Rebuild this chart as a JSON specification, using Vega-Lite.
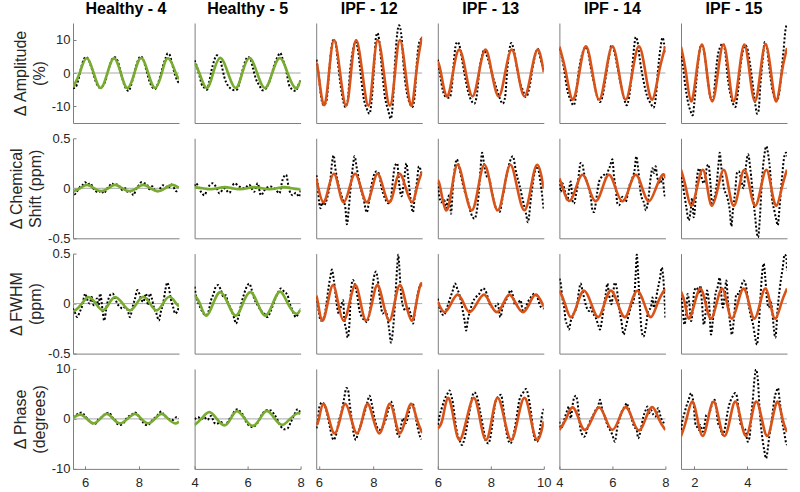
{
"$schema":"https://vega.github.io/schema/vega-lite/v6.json",
"padding":{"left":8,"top":1,"right":4,"bottom":2},
"background":"white",
"config":{"view":{"stroke":null},
"axis":{"grid":false,"ticks":false,"domainColor":"#7f7f7f","domainWidth":1,"tickColor":"#7f7f7f","labelFont":"Liberation Sans","labelFontSize":13,"labelColor":"#262626","labelFlush":false,"labelOverlap":false,"labelPadding":4,"titleFont":"Liberation Sans","titleFontSize":16,"titleFontWeight":"normal","titleColor":"#262626","titleLineHeight":19},
"axisX":{"labelPadding":11},
"axisY":{"labelPadding":6},
"title":{"font":"Liberation Sans","fontSize":16,"fontWeight":"bold","color":"#000","offset":6,"frame":"group"}},
"datasets":{
"f11":[{"x":5.55,"y":-4.3},{"x":5.8,"y":0},{"x":6.05,"y":4.4},{"x":6.32,"y":0},{"x":6.58,"y":-4.5},{"x":6.83,"y":0},{"x":7.08,"y":4.4},{"x":7.33,"y":0},{"x":7.58,"y":-4.5},{"x":7.84,"y":0},{"x":8.09,"y":4.5},{"x":8.35,"y":0},{"x":8.61,"y":-4.5},{"x":8.86,"y":0},{"x":9.1,"y":4.4},{"x":9.38,"y":0},{"x":9.5,"y":-1.8}],
"d11":[{"x":5.55,"y":-4.6},{"x":5.65,"y":-4.2},{"x":5.75,"y":-2},{"x":5.85,"y":1.5},{"x":5.95,"y":4},{"x":6.03,"y":4.8},{"x":6.12,"y":4.2},{"x":6.22,"y":2},{"x":6.32,"y":-0.5},{"x":6.42,"y":-3},{"x":6.55,"y":-4.4},{"x":6.65,"y":-4},{"x":6.75,"y":-2.5},{"x":6.85,"y":0.3},{"x":6.95,"y":3},{"x":7.05,"y":4.5},{"x":7.12,"y":4.7},{"x":7.22,"y":3.5},{"x":7.32,"y":0.5},{"x":7.42,"y":-2.5},{"x":7.52,"y":-4.6},{"x":7.62,"y":-5.4},{"x":7.72,"y":-3.5},{"x":7.82,"y":-0.5},{"x":7.92,"y":2.5},{"x":8.02,"y":4.6},{"x":8.08,"y":5},{"x":8.18,"y":3.8},{"x":8.28,"y":1},{"x":8.38,"y":-2},{"x":8.5,"y":-4.2},{"x":8.6,"y":-4.8},{"x":8.7,"y":-3.5},{"x":8.8,"y":-1},{"x":8.9,"y":2},{"x":9,"y":4.5},{"x":9.08,"y":5.9},{"x":9.15,"y":5.5},{"x":9.25,"y":2.5},{"x":9.35,"y":-0.5},{"x":9.45,"y":-2.5},{"x":9.5,"y":-3}],
"f12":[{"x":4,"y":2.9},{"x":4.18,"y":0},{"x":4.45,"y":-4.5},{"x":4.7,"y":0},{"x":4.97,"y":4.5},{"x":5.26,"y":0},{"x":5.55,"y":-4.5},{"x":5.8,"y":0},{"x":6.07,"y":4.5},{"x":6.36,"y":0},{"x":6.65,"y":-4.5},{"x":6.93,"y":0},{"x":7.22,"y":4.5},{"x":7.51,"y":0},{"x":7.8,"y":-4.5},{"x":8,"y":-2.2}],
"d12":[{"x":4,"y":3.8},{"x":4.09,"y":1.8},{"x":4.18,"y":-0.7},{"x":4.26,"y":-3.2},{"x":4.36,"y":-4.4},{"x":4.47,"y":-5},{"x":4.55,"y":-2.7},{"x":4.64,"y":0.8},{"x":4.74,"y":3.8},{"x":4.84,"y":5.3},{"x":4.93,"y":4.8},{"x":5.02,"y":2.3},{"x":5.12,"y":-1.2},{"x":5.25,"y":-3.7},{"x":5.37,"y":-4.7},{"x":5.5,"y":-5.2},{"x":5.6,"y":-5},{"x":5.7,"y":-2.7},{"x":5.81,"y":0.8},{"x":5.9,"y":3.3},{"x":6,"y":4.8},{"x":6.1,"y":4.3},{"x":6.19,"y":1.8},{"x":6.31,"y":-1.7},{"x":6.44,"y":-3.7},{"x":6.57,"y":-5.2},{"x":6.69,"y":-4.7},{"x":6.88,"y":-1.2},{"x":7,"y":2.3},{"x":7.13,"y":4.8},{"x":7.23,"y":6},{"x":7.32,"y":4.3},{"x":7.45,"y":1},{"x":7.57,"y":-3.7},{"x":7.7,"y":-5},{"x":7.82,"y":-5.4},{"x":7.91,"y":-3.7},{"x":8,"y":-2.2}],
"f13":[{"x":5.9,"y":2.9},{"x":5.98,"y":0},{"x":6.18,"y":-9.6},{"x":6.37,"y":0},{"x":6.56,"y":9.9},{"x":6.78,"y":0},{"x":7,"y":-9.8},{"x":7.18,"y":0},{"x":7.37,"y":9.9},{"x":7.6,"y":0},{"x":7.82,"y":-9.8},{"x":7.99,"y":0},{"x":8.17,"y":9.9},{"x":8.39,"y":0},{"x":8.61,"y":-9.8},{"x":8.8,"y":0},{"x":8.98,"y":9.9},{"x":9.19,"y":0},{"x":9.4,"y":-9.8},{"x":9.58,"y":0},{"x":9.77,"y":9.8},{"x":9.8,"y":9.6}],
"d13":[{"x":5.91,"y":4},{"x":6,"y":-1.2},{"x":6.08,"y":-7.2},{"x":6.18,"y":-9.7},{"x":6.28,"y":-8.2},{"x":6.36,"y":-1.2},{"x":6.45,"y":6.8},{"x":6.52,"y":9.8},{"x":6.61,"y":9.3},{"x":6.69,"y":3.8},{"x":6.79,"y":-3.2},{"x":6.89,"y":-8.2},{"x":6.97,"y":-10.2},{"x":7.06,"y":-8.2},{"x":7.15,"y":1},{"x":7.25,"y":6.8},{"x":7.34,"y":9.3},{"x":7.42,"y":7.8},{"x":7.52,"y":1},{"x":7.64,"y":-7.2},{"x":7.76,"y":-10.7},{"x":7.86,"y":-12.2},{"x":7.94,"y":-8.2},{"x":8.03,"y":1.8},{"x":8.1,"y":10.8},{"x":8.15,"y":12},{"x":8.22,"y":9.8},{"x":8.31,"y":1.8},{"x":8.43,"y":-7.2},{"x":8.55,"y":-11.2},{"x":8.64,"y":-13.7},{"x":8.71,"y":-10.2},{"x":8.79,"y":1.8},{"x":8.88,"y":11.8},{"x":8.95,"y":14.3},{"x":9.04,"y":10.8},{"x":9.12,"y":1.8},{"x":9.22,"y":-5.2},{"x":9.35,"y":-9.2},{"x":9.44,"y":-10.2},{"x":9.54,"y":-5.2},{"x":9.6,"y":2.8},{"x":9.68,"y":8.8},{"x":9.77,"y":10.3}],
"f14":[{"x":6,"y":3.5},{"x":6.12,"y":0},{"x":6.34,"y":-7},{"x":6.57,"y":0},{"x":6.81,"y":7},{"x":7.06,"y":0},{"x":7.31,"y":-7},{"x":7.55,"y":0},{"x":7.8,"y":7},{"x":8.04,"y":0},{"x":8.3,"y":-7},{"x":8.54,"y":0},{"x":8.79,"y":7},{"x":9.03,"y":0},{"x":9.27,"y":-7},{"x":9.52,"y":0},{"x":9.77,"y":7},{"x":10,"y":0.2}],
"d14":[{"x":6,"y":4},{"x":6.1,"y":-1.2},{"x":6.19,"y":-5.2},{"x":6.31,"y":-7.2},{"x":6.44,"y":-7.4},{"x":6.53,"y":-4.2},{"x":6.6,"y":2.8},{"x":6.69,"y":8.8},{"x":6.75,"y":9.3},{"x":6.86,"y":6.8},{"x":6.94,"y":2.8},{"x":7.03,"y":-1.2},{"x":7.13,"y":-5.2},{"x":7.26,"y":-8.2},{"x":7.38,"y":-9.2},{"x":7.48,"y":-6.2},{"x":7.57,"y":1},{"x":7.66,"y":4.8},{"x":7.74,"y":6.8},{"x":7.82,"y":5.8},{"x":7.95,"y":2.8},{"x":8.08,"y":-1.2},{"x":8.2,"y":-4.2},{"x":8.33,"y":-7.4},{"x":8.45,"y":-9.2},{"x":8.54,"y":-7.2},{"x":8.62,"y":1},{"x":8.7,"y":6.8},{"x":8.77,"y":9},{"x":8.87,"y":6.8},{"x":8.96,"y":2.8},{"x":9.08,"y":-2.2},{"x":9.21,"y":-5.2},{"x":9.33,"y":-7.2},{"x":9.46,"y":-4.2},{"x":9.58,"y":1.8},{"x":9.71,"y":6.3},{"x":9.77,"y":7.3},{"x":9.89,"y":3.8},{"x":10,"y":1}],
"f15":[{"x":4,"y":7.9},{"x":4.25,"y":0},{"x":4.5,"y":-8},{"x":4.75,"y":0},{"x":5,"y":8},{"x":5.25,"y":0},{"x":5.5,"y":-8},{"x":5.75,"y":0},{"x":6,"y":8},{"x":6.25,"y":0},{"x":6.5,"y":-8},{"x":6.75,"y":0},{"x":7,"y":8},{"x":7.25,"y":0},{"x":7.5,"y":-8},{"x":7.75,"y":0},{"x":8,"y":7.9}],
"d15":[{"x":4,"y":7.3},{"x":4.09,"y":4.8},{"x":4.18,"y":1},{"x":4.3,"y":-5.2},{"x":4.43,"y":-8.2},{"x":4.53,"y":-9.7},{"x":4.62,"y":-7.2},{"x":4.7,"y":-1.2},{"x":4.8,"y":3.8},{"x":4.91,"y":6.8},{"x":4.99,"y":7.8},{"x":5.08,"y":6.3},{"x":5.18,"y":1.8},{"x":5.31,"y":-3.2},{"x":5.43,"y":-7.2},{"x":5.53,"y":-8.7},{"x":5.62,"y":-7.2},{"x":5.75,"y":-1.2},{"x":5.87,"y":4.8},{"x":5.96,"y":8.3},{"x":6.06,"y":6.8},{"x":6.19,"y":1.8},{"x":6.31,"y":-3.2},{"x":6.44,"y":-7.7},{"x":6.54,"y":-9.7},{"x":6.63,"y":-7.2},{"x":6.72,"y":-1.2},{"x":6.82,"y":7.8},{"x":6.88,"y":10.8},{"x":6.94,"y":9.8},{"x":7.04,"y":3.8},{"x":7.17,"y":-2.2},{"x":7.3,"y":-6.7},{"x":7.45,"y":-9.2},{"x":7.55,"y":-10.4},{"x":7.64,"y":-7.2},{"x":7.72,"y":0.8},{"x":7.82,"y":7.8},{"x":7.89,"y":10.6},{"x":8,"y":5.8}],
"f16":[{"x":1.5,"y":7.9},{"x":1.69,"y":0},{"x":1.88,"y":-8.5},{"x":2.08,"y":0},{"x":2.29,"y":8.5},{"x":2.48,"y":0},{"x":2.68,"y":-8.5},{"x":2.89,"y":0},{"x":3.1,"y":8.5},{"x":3.3,"y":0},{"x":3.49,"y":-8.5},{"x":3.69,"y":0},{"x":3.89,"y":8.5},{"x":4.09,"y":0},{"x":4.29,"y":-8.5},{"x":4.49,"y":0},{"x":4.69,"y":8.5},{"x":4.9,"y":0},{"x":5.1,"y":-8.5},{"x":5.3,"y":0},{"x":5.5,"y":7.5}],
"d16":[{"x":1.5,"y":6.3},{"x":1.58,"y":1.8},{"x":1.66,"y":-3.7},{"x":1.75,"y":-8.2},{"x":1.85,"y":-11.2},{"x":1.94,"y":-12.7},{"x":2,"y":-9.2},{"x":2.08,"y":-2.2},{"x":2.17,"y":4.8},{"x":2.25,"y":8.3},{"x":2.33,"y":7.8},{"x":2.42,"y":3.8},{"x":2.51,"y":-2.2},{"x":2.58,"y":-6.2},{"x":2.67,"y":-8.2},{"x":2.73,"y":-7.2},{"x":2.8,"y":-1.2},{"x":2.88,"y":4.8},{"x":2.98,"y":7.8},{"x":3.08,"y":8.8},{"x":3.17,"y":6.3},{"x":3.26,"y":-1.2},{"x":3.36,"y":-6.2},{"x":3.46,"y":-9.2},{"x":3.55,"y":-10.2},{"x":3.64,"y":-6.2},{"x":3.74,"y":1.8},{"x":3.84,"y":6.8},{"x":3.93,"y":8.3},{"x":4.02,"y":6.8},{"x":4.12,"y":1.8},{"x":4.22,"y":-4.2},{"x":4.3,"y":-9.2},{"x":4.37,"y":-12.2},{"x":4.43,"y":-11.2},{"x":4.49,"y":-4.2},{"x":4.58,"y":3.8},{"x":4.66,"y":9.3},{"x":4.75,"y":7.3},{"x":4.83,"y":1.8},{"x":4.93,"y":-4.2},{"x":5.02,"y":-7.2},{"x":5.12,"y":-8.2},{"x":5.22,"y":-5.2},{"x":5.31,"y":1.8},{"x":5.37,"y":6.8},{"x":5.44,"y":12.8},{"x":5.5,"y":14.8}],
"f21":[{"x":5.55,"y":-0.03},{"x":5.81,"y":0},{"x":6.07,"y":0.034},{"x":6.34,"y":0},{"x":6.6,"y":-0.028},{"x":6.86,"y":0},{"x":7.12,"y":0.034},{"x":7.39,"y":0},{"x":7.65,"y":-0.028},{"x":7.91,"y":0},{"x":8.17,"y":0.034},{"x":8.44,"y":0},{"x":8.72,"y":-0.028},{"x":8.98,"y":0},{"x":9.25,"y":0.034},{"x":9.5,"y":0.005}],
"d21":[{"x":5.55,"y":-0.02},{"x":5.6,"y":-0.06},{"x":5.7,"y":-0.03},{"x":5.8,"y":0.01},{"x":5.9,"y":0.03},{"x":6,"y":0.06},{"x":6.1,"y":0.04},{"x":6.2,"y":0.05},{"x":6.3,"y":0},{"x":6.4,"y":-0.03},{"x":6.5,"y":-0.04},{"x":6.6,"y":-0.02},{"x":6.7,"y":-0.05},{"x":6.8,"y":-0.01},{"x":6.9,"y":0.02},{"x":7,"y":0.05},{"x":7.1,"y":0.03},{"x":7.2,"y":0.04},{"x":7.3,"y":0.01},{"x":7.4,"y":-0.02},{"x":7.5,"y":0},{"x":7.6,"y":-0.04},{"x":7.7,"y":-0.03},{"x":7.8,"y":-0.07},{"x":7.9,"y":-0.01},{"x":8,"y":0.03},{"x":8.1,"y":0.06},{"x":8.2,"y":0.05},{"x":8.3,"y":0.04},{"x":8.4,"y":-0.01},{"x":8.5,"y":0.02},{"x":8.6,"y":-0.02},{"x":8.7,"y":-0.03},{"x":8.8,"y":0},{"x":8.9,"y":0.03},{"x":9,"y":0.02},{"x":9.1,"y":0},{"x":9.2,"y":0.04},{"x":9.3,"y":0.01},{"x":9.4,"y":-0.03},{"x":9.5,"y":-0.02}],
"f22":[{"x":4,"y":0.012},{"x":4.3,"y":0},{"x":4.58,"y":-0.01},{"x":4.86,"y":0},{"x":5.14,"y":0.012},{"x":5.42,"y":0},{"x":5.7,"y":-0.01},{"x":5.98,"y":0},{"x":6.26,"y":0.012},{"x":6.54,"y":0},{"x":6.82,"y":-0.01},{"x":7.1,"y":0},{"x":7.38,"y":0.012},{"x":7.66,"y":0},{"x":7.94,"y":-0.01},{"x":8,"y":-0.008}],
"d22":[{"x":4,"y":0.02},{"x":4.05,"y":0.05},{"x":4.24,"y":-0.035},{"x":4.37,"y":-0.07},{"x":4.49,"y":0},{"x":4.68,"y":0.05},{"x":4.87,"y":-0.017},{"x":4.93,"y":-0.05},{"x":5.12,"y":0},{"x":5.31,"y":-0.045},{"x":5.5,"y":0.05},{"x":5.69,"y":0.017},{"x":5.88,"y":0},{"x":6.06,"y":0.035},{"x":6.25,"y":-0.035},{"x":6.38,"y":0.05},{"x":6.5,"y":-0.07},{"x":6.69,"y":0},{"x":6.88,"y":0.017},{"x":7.07,"y":-0.017},{"x":7.2,"y":-0.05},{"x":7.32,"y":0.085},{"x":7.45,"y":0.135},{"x":7.57,"y":-0.017},{"x":7.7,"y":-0.07},{"x":7.82,"y":-0.045},{"x":7.95,"y":-0.085},{"x":8,"y":-0.017}],
"f23":[{"x":5.9,"y":0.1},{"x":5.98,"y":0},{"x":6.16,"y":-0.14},{"x":6.35,"y":0},{"x":6.55,"y":0.145},{"x":6.73,"y":0},{"x":6.91,"y":-0.14},{"x":7.12,"y":0},{"x":7.33,"y":0.145},{"x":7.55,"y":0},{"x":7.76,"y":-0.14},{"x":7.96,"y":0},{"x":8.16,"y":0.145},{"x":8.37,"y":0},{"x":8.59,"y":-0.14},{"x":8.78,"y":0},{"x":8.97,"y":0.145},{"x":9.2,"y":0},{"x":9.43,"y":-0.14},{"x":9.6,"y":0},{"x":9.77,"y":0.145},{"x":9.8,"y":0.14}],
"d23":[{"x":5.91,"y":0.13},{"x":5.96,"y":0.02},{"x":6,"y":-0.12},{"x":6.06,"y":-0.2},{"x":6.12,"y":-0.14},{"x":6.18,"y":-0.17},{"x":6.3,"y":-0.1},{"x":6.42,"y":0.08},{"x":6.48,"y":0.25},{"x":6.54,"y":0.33},{"x":6.61,"y":0.19},{"x":6.73,"y":0.02},{"x":6.85,"y":-0.09},{"x":6.97,"y":-0.19},{"x":7.03,"y":-0.36},{"x":7.1,"y":-0.2},{"x":7.18,"y":0.05},{"x":7.25,"y":0.22},{"x":7.31,"y":0.32},{"x":7.4,"y":0.19},{"x":7.52,"y":0.02},{"x":7.64,"y":-0.1},{"x":7.76,"y":-0.24},{"x":7.85,"y":-0.12},{"x":7.95,"y":0.05},{"x":8.05,"y":0.15},{"x":8.12,"y":0.17},{"x":8.2,"y":0.15},{"x":8.31,"y":0},{"x":8.43,"y":-0.1},{"x":8.55,"y":-0.15},{"x":8.64,"y":-0.12},{"x":8.73,"y":0.1},{"x":8.79,"y":0.22},{"x":8.88,"y":0.25},{"x":8.95,"y":0.05},{"x":9.04,"y":-0.08},{"x":9.12,"y":0.05},{"x":9.22,"y":0.25},{"x":9.28,"y":0.12},{"x":9.37,"y":-0.1},{"x":9.46,"y":-0.24},{"x":9.52,"y":-0.1},{"x":9.6,"y":0.05},{"x":9.68,"y":0.22},{"x":9.77,"y":0.15}],
"f24":[{"x":6,"y":0.085},{"x":6.1,"y":0},{"x":6.31,"y":-0.22},{"x":6.53,"y":0},{"x":6.75,"y":0.235},{"x":7.01,"y":0},{"x":7.28,"y":-0.22},{"x":7.52,"y":0},{"x":7.76,"y":0.235},{"x":8.01,"y":0},{"x":8.26,"y":-0.22},{"x":8.5,"y":0},{"x":8.74,"y":0.235},{"x":9,"y":0},{"x":9.27,"y":-0.22},{"x":9.51,"y":0},{"x":9.75,"y":0.235},{"x":10,"y":0}],
"d24":[{"x":6,"y":0.06},{"x":6.06,"y":-0.085},{"x":6.13,"y":-0.14},{"x":6.25,"y":-0.12},{"x":6.31,"y":-0.22},{"x":6.38,"y":-0.1},{"x":6.44,"y":-0.07},{"x":6.5,"y":-0.255},{"x":6.57,"y":0.017},{"x":6.65,"y":0.22},{"x":6.72,"y":0.29},{"x":6.78,"y":0.237},{"x":6.88,"y":0.12},{"x":7,"y":-0.017},{"x":7.13,"y":-0.12},{"x":7.26,"y":-0.255},{"x":7.38,"y":-0.305},{"x":7.51,"y":-0.15},{"x":7.61,"y":0.186},{"x":7.67,"y":0.356},{"x":7.74,"y":0.255},{"x":7.82,"y":0.135},{"x":7.95,"y":0.085},{"x":8.08,"y":-0.085},{"x":8.2,"y":-0.2},{"x":8.33,"y":-0.237},{"x":8.45,"y":-0.085},{"x":8.64,"y":0.186},{"x":8.83,"y":0.32},{"x":8.96,"y":0.152},{"x":9.08,"y":0.034},{"x":9.21,"y":-0.12},{"x":9.33,"y":-0.255},{"x":9.4,"y":-0.34},{"x":9.52,"y":-0.085},{"x":9.65,"y":0.152},{"x":9.75,"y":0.22},{"x":9.88,"y":0.05},{"x":10,"y":-0.22}],
"f25":[{"x":4,"y":0.1},{"x":4.13,"y":0},{"x":4.36,"y":-0.126},{"x":4.62,"y":0},{"x":4.87,"y":0.135},{"x":5.12,"y":0},{"x":5.37,"y":-0.13},{"x":5.62,"y":0},{"x":5.87,"y":0.135},{"x":6.12,"y":0},{"x":6.38,"y":-0.13},{"x":6.63,"y":0},{"x":6.88,"y":0.135},{"x":7.13,"y":0},{"x":7.38,"y":-0.13},{"x":7.64,"y":0},{"x":7.89,"y":0.135},{"x":8,"y":0.1}],
"d25":[{"x":4,"y":0.085},{"x":4.05,"y":-0.034},{"x":4.11,"y":0.05},{"x":4.24,"y":-0.07},{"x":4.3,"y":-0.12},{"x":4.36,"y":-0.017},{"x":4.43,"y":0.067},{"x":4.49,"y":-0.12},{"x":4.55,"y":-0.153},{"x":4.62,"y":-0.07},{"x":4.68,"y":0.017},{"x":4.74,"y":0.152},{"x":4.8,"y":0.254},{"x":4.87,"y":0.237},{"x":4.93,"y":0.152},{"x":5.06,"y":0.05},{"x":5.18,"y":-0.085},{"x":5.25,"y":-0.22},{"x":5.31,"y":-0.238},{"x":5.37,"y":-0.153},{"x":5.43,"y":-0.034},{"x":5.5,"y":0.067},{"x":5.56,"y":0.1},{"x":5.69,"y":0.135},{"x":5.75,"y":0.1},{"x":5.81,"y":0.152},{"x":5.91,"y":0.22},{"x":6,"y":0.29},{"x":6.06,"y":0.118},{"x":6.13,"y":-0.017},{"x":6.19,"y":-0.153},{"x":6.25,"y":-0.17},{"x":6.38,"y":-0.085},{"x":6.5,"y":-0.136},{"x":6.63,"y":0.017},{"x":6.75,"y":0.1},{"x":6.84,"y":0.186},{"x":6.9,"y":0.32},{"x":6.97,"y":0.2},{"x":7.07,"y":-0.05},{"x":7.2,"y":-0.153},{"x":7.26,"y":-0.22},{"x":7.35,"y":-0.12},{"x":7.45,"y":0.118},{"x":7.51,"y":0.2},{"x":7.57,"y":0.152},{"x":7.63,"y":0.22},{"x":7.7,"y":0.1},{"x":7.82,"y":0.05},{"x":7.89,"y":0.118},{"x":7.95,"y":-0.034},{"x":8,"y":-0.1}],
"f26":[{"x":1.5,"y":0.186},{"x":1.69,"y":0},{"x":1.88,"y":-0.175},{"x":2.1,"y":0},{"x":2.32,"y":0.186},{"x":2.5,"y":0},{"x":2.67,"y":-0.175},{"x":2.89,"y":0},{"x":3.11,"y":0.186},{"x":3.3,"y":0},{"x":3.49,"y":-0.175},{"x":3.69,"y":0},{"x":3.89,"y":0.186},{"x":4.1,"y":0},{"x":4.3,"y":-0.175},{"x":4.51,"y":0},{"x":4.72,"y":0.186},{"x":4.91,"y":0},{"x":5.1,"y":-0.175},{"x":5.3,"y":0},{"x":5.5,"y":0.186}],
"d26":[{"x":1.5,"y":0.152},{"x":1.6,"y":-0.017},{"x":1.7,"y":-0.187},{"x":1.79,"y":-0.32},{"x":1.85,"y":-0.254},{"x":1.92,"y":-0.1},{"x":1.98,"y":-0.29},{"x":2.04,"y":-0.15},{"x":2.1,"y":0.1},{"x":2.19,"y":0.2},{"x":2.25,"y":0.135},{"x":2.36,"y":0.05},{"x":2.42,"y":0.1},{"x":2.48,"y":0.22},{"x":2.54,"y":0.237},{"x":2.61,"y":0.05},{"x":2.67,"y":-0.15},{"x":2.73,"y":-0.12},{"x":2.83,"y":0},{"x":2.92,"y":0.254},{"x":2.96,"y":0.356},{"x":3.02,"y":0.22},{"x":3.11,"y":0.017},{"x":3.24,"y":-0.085},{"x":3.34,"y":-0.22},{"x":3.4,"y":-0.38},{"x":3.46,"y":-0.22},{"x":3.55,"y":-0.017},{"x":3.61,"y":0.152},{"x":3.68,"y":0.17},{"x":3.76,"y":0.1},{"x":3.86,"y":0},{"x":3.95,"y":0.22},{"x":4.03,"y":0.34},{"x":4.12,"y":0.186},{"x":4.22,"y":-0.085},{"x":4.3,"y":-0.29},{"x":4.37,"y":-0.46},{"x":4.41,"y":-0.49},{"x":4.47,"y":-0.32},{"x":4.56,"y":0.1},{"x":4.64,"y":0.32},{"x":4.72,"y":0.42},{"x":4.78,"y":0.356},{"x":4.87,"y":0.152},{"x":4.93,"y":-0.085},{"x":5.02,"y":-0.22},{"x":5.1,"y":-0.32},{"x":5.15,"y":-0.37},{"x":5.22,"y":-0.187},{"x":5.31,"y":0.1},{"x":5.4,"y":0.32},{"x":5.47,"y":0.356},{"x":5.5,"y":0.32}],
"f31":[{"x":5.55,"y":-0.065},{"x":5.63,"y":-0.068},{"x":5.88,"y":0},{"x":6.13,"y":0.065},{"x":6.4,"y":0},{"x":6.66,"y":-0.068},{"x":6.89,"y":0},{"x":7.12,"y":0.065},{"x":7.4,"y":0},{"x":7.67,"y":-0.068},{"x":7.92,"y":0},{"x":8.17,"y":0.068},{"x":8.42,"y":0},{"x":8.66,"y":-0.068},{"x":8.9,"y":0},{"x":9.15,"y":0.068},{"x":9.4,"y":0},{"x":9.5,"y":-0.02}],
"d31":[{"x":5.55,"y":-0.05},{"x":5.64,"y":-0.1},{"x":5.7,"y":-0.135},{"x":5.8,"y":-0.085},{"x":5.88,"y":-0.034},{"x":6.01,"y":0.1},{"x":6.07,"y":0.05},{"x":6.17,"y":0},{"x":6.25,"y":0.067},{"x":6.32,"y":-0.017},{"x":6.38,"y":0},{"x":6.44,"y":0.05},{"x":6.5,"y":-0.034},{"x":6.56,"y":0.1},{"x":6.66,"y":-0.085},{"x":6.71,"y":-0.17},{"x":6.81,"y":-0.017},{"x":6.93,"y":0.084},{"x":7.03,"y":0.1},{"x":7.12,"y":0.05},{"x":7.2,"y":0},{"x":7.3,"y":-0.034},{"x":7.4,"y":-0.05},{"x":7.49,"y":-0.034},{"x":7.59,"y":-0.068},{"x":7.67,"y":-0.135},{"x":7.77,"y":-0.034},{"x":7.86,"y":0.05},{"x":7.95,"y":0.135},{"x":8.02,"y":0.1},{"x":8.08,"y":0.05},{"x":8.17,"y":0.017},{"x":8.27,"y":0.1},{"x":8.35,"y":-0.017},{"x":8.41,"y":0.1},{"x":8.49,"y":0.05},{"x":8.56,"y":-0.034},{"x":8.66,"y":-0.1},{"x":8.75,"y":-0.17},{"x":8.82,"y":-0.085},{"x":8.91,"y":0},{"x":8.99,"y":0.135},{"x":9.06,"y":0.21},{"x":9.12,"y":0.17},{"x":9.18,"y":0.067},{"x":9.28,"y":-0.034},{"x":9.36,"y":-0.1},{"x":9.5,"y":-0.034}],
"f32":[{"x":4,"y":0.085},{"x":4.2,"y":0},{"x":4.43,"y":-0.12},{"x":4.7,"y":0},{"x":4.97,"y":0.115},{"x":5.26,"y":0},{"x":5.55,"y":-0.12},{"x":5.82,"y":0},{"x":6.1,"y":0.115},{"x":6.38,"y":0},{"x":6.67,"y":-0.12},{"x":6.95,"y":0},{"x":7.23,"y":0.12},{"x":7.52,"y":0},{"x":7.82,"y":-0.1},{"x":8,"y":-0.06}],
"d32":[{"x":4,"y":0.17},{"x":4.05,"y":0.084},{"x":4.18,"y":-0.017},{"x":4.3,"y":-0.085},{"x":4.43,"y":-0.118},{"x":4.52,"y":-0.085},{"x":4.62,"y":0.034},{"x":4.72,"y":0.1},{"x":4.8,"y":0.17},{"x":4.89,"y":0.185},{"x":4.99,"y":0.135},{"x":5.09,"y":0.067},{"x":5.18,"y":0.084},{"x":5.25,"y":0.017},{"x":5.37,"y":-0.05},{"x":5.5,"y":-0.15},{"x":5.56,"y":-0.2},{"x":5.65,"y":-0.135},{"x":5.75,"y":-0.017},{"x":5.87,"y":0.1},{"x":5.97,"y":0.17},{"x":6.06,"y":0.2},{"x":6.16,"y":0.135},{"x":6.25,"y":0.05},{"x":6.38,"y":-0.017},{"x":6.5,"y":-0.068},{"x":6.63,"y":-0.1},{"x":6.75,"y":-0.135},{"x":6.88,"y":-0.068},{"x":7,"y":0.017},{"x":7.13,"y":0.1},{"x":7.26,"y":0.152},{"x":7.38,"y":0.118},{"x":7.51,"y":0.084},{"x":7.57,"y":0.017},{"x":7.64,"y":-0.034},{"x":7.74,"y":-0.1},{"x":7.82,"y":-0.135},{"x":7.91,"y":-0.1},{"x":8,"y":-0.05}],
"f33":[{"x":5.9,"y":0.08},{"x":5.97,"y":0},{"x":6.12,"y":-0.17},{"x":6.32,"y":0},{"x":6.52,"y":0.185},{"x":6.71,"y":0},{"x":6.91,"y":-0.17},{"x":7.12,"y":0},{"x":7.34,"y":0.185},{"x":7.54,"y":0},{"x":7.74,"y":-0.17},{"x":7.95,"y":0},{"x":8.15,"y":0.185},{"x":8.37,"y":0},{"x":8.59,"y":-0.17},{"x":8.78,"y":0},{"x":8.98,"y":0.185},{"x":9.2,"y":0},{"x":9.42,"y":-0.17},{"x":9.58,"y":0},{"x":9.74,"y":0.19},{"x":9.8,"y":0.17}],
"d33":[{"x":5.91,"y":0.067},{"x":6,"y":-0.085},{"x":6.06,"y":-0.17},{"x":6.16,"y":-0.152},{"x":6.24,"y":-0.068},{"x":6.36,"y":0.17},{"x":6.42,"y":0.27},{"x":6.48,"y":0.34},{"x":6.54,"y":0.25},{"x":6.61,"y":0.1},{"x":6.67,"y":-0.034},{"x":6.73,"y":-0.1},{"x":6.81,"y":-0.034},{"x":6.89,"y":0.034},{"x":6.93,"y":-0.135},{"x":7.01,"y":-0.27},{"x":7.06,"y":-0.34},{"x":7.13,"y":-0.17},{"x":7.18,"y":0.135},{"x":7.25,"y":0.236},{"x":7.31,"y":0.2},{"x":7.4,"y":0.1},{"x":7.49,"y":-0.068},{"x":7.58,"y":-0.135},{"x":7.7,"y":-0.17},{"x":7.76,"y":-0.186},{"x":7.86,"y":-0.1},{"x":7.94,"y":0.1},{"x":8.03,"y":0.27},{"x":8.1,"y":0.32},{"x":8.16,"y":0.25},{"x":8.25,"y":0.034},{"x":8.35,"y":-0.1},{"x":8.43,"y":-0.068},{"x":8.52,"y":-0.135},{"x":8.59,"y":-0.27},{"x":8.65,"y":-0.39},{"x":8.71,"y":-0.3},{"x":8.79,"y":-0.034},{"x":8.88,"y":0.37},{"x":8.92,"y":0.49},{"x":8.95,"y":0.4},{"x":9.01,"y":0.135},{"x":9.1,"y":-0.034},{"x":9.19,"y":-0.068},{"x":9.28,"y":-0.034},{"x":9.37,"y":-0.1},{"x":9.46,"y":-0.2},{"x":9.54,"y":-0.068},{"x":9.64,"y":0.1},{"x":9.7,"y":0.17},{"x":9.77,"y":0.2}],
"f34":[{"x":6,"y":0.017},{"x":6.25,"y":-0.085},{"x":6.5,"y":0},{"x":6.75,"y":0.09},{"x":6.98,"y":0},{"x":7.2,"y":-0.085},{"x":7.47,"y":0},{"x":7.74,"y":0.09},{"x":7.98,"y":0},{"x":8.23,"y":-0.085},{"x":8.47,"y":0},{"x":8.7,"y":0.09},{"x":8.95,"y":0},{"x":9.21,"y":-0.085},{"x":9.46,"y":0},{"x":9.71,"y":0.09},{"x":10,"y":-0.03}],
"d34":[{"x":6,"y":0.05},{"x":6.06,"y":-0.034},{"x":6.15,"y":-0.1},{"x":6.23,"y":-0.118},{"x":6.31,"y":-0.068},{"x":6.44,"y":0.034},{"x":6.57,"y":0.135},{"x":6.65,"y":0.2},{"x":6.73,"y":0.152},{"x":6.82,"y":0.084},{"x":6.88,"y":0.017},{"x":6.94,"y":-0.068},{"x":7.01,"y":-0.17},{"x":7.07,"y":-0.27},{"x":7.13,"y":-0.17},{"x":7.22,"y":-0.068},{"x":7.32,"y":0.017},{"x":7.45,"y":0.067},{"x":7.57,"y":0.1},{"x":7.7,"y":0.152},{"x":7.79,"y":0.135},{"x":7.86,"y":0.084},{"x":7.95,"y":0},{"x":8.04,"y":-0.034},{"x":8.14,"y":-0.034},{"x":8.26,"y":0},{"x":8.36,"y":-0.135},{"x":8.45,"y":-0.034},{"x":8.54,"y":0.017},{"x":8.64,"y":0.067},{"x":8.74,"y":0.135},{"x":8.83,"y":0.084},{"x":8.92,"y":-0.017},{"x":9.02,"y":0},{"x":9.12,"y":0.034},{"x":9.21,"y":-0.068},{"x":9.3,"y":-0.05},{"x":9.4,"y":0.017},{"x":9.52,"y":0.067},{"x":9.65,"y":0.1},{"x":9.75,"y":0.067},{"x":9.88,"y":-0.03},{"x":10,"y":-0.05}],
"f35":[{"x":4,"y":0.13},{"x":4.21,"y":0},{"x":4.43,"y":-0.135},{"x":4.68,"y":0},{"x":4.93,"y":0.13},{"x":5.2,"y":0},{"x":5.46,"y":-0.135},{"x":5.7,"y":0},{"x":5.94,"y":0.13},{"x":6.2,"y":0},{"x":6.47,"y":-0.135},{"x":6.7,"y":0},{"x":6.94,"y":0.13},{"x":7.2,"y":0},{"x":7.45,"y":-0.135},{"x":7.7,"y":0},{"x":7.95,"y":0.13},{"x":8,"y":0.12}],
"d35":[{"x":4,"y":0.25},{"x":4.05,"y":0.2},{"x":4.11,"y":0.06},{"x":4.18,"y":-0.04},{"x":4.24,"y":-0.175},{"x":4.3,"y":-0.21},{"x":4.36,"y":-0.26},{"x":4.43,"y":-0.175},{"x":4.49,"y":-0.14},{"x":4.55,"y":-0.09},{"x":4.65,"y":-0.04},{"x":4.74,"y":0.13},{"x":4.8,"y":0.2},{"x":4.87,"y":0.13},{"x":4.93,"y":0.06},{"x":5.03,"y":-0.04},{"x":5.12,"y":-0.074},{"x":5.18,"y":-0.04},{"x":5.25,"y":-0.09},{"x":5.37,"y":-0.14},{"x":5.46,"y":-0.21},{"x":5.53,"y":-0.26},{"x":5.62,"y":-0.14},{"x":5.69,"y":-0.006},{"x":5.75,"y":0.095},{"x":5.81,"y":0.2},{"x":5.87,"y":0.095},{"x":5.96,"y":-0.006},{"x":6.04,"y":0.13},{"x":6.09,"y":0.21},{"x":6.16,"y":0.16},{"x":6.25,"y":-0.04},{"x":6.34,"y":-0.175},{"x":6.42,"y":-0.31},{"x":6.5,"y":-0.24},{"x":6.59,"y":-0.14},{"x":6.69,"y":-0.04},{"x":6.82,"y":0.06},{"x":6.88,"y":0.3},{"x":6.92,"y":0.49},{"x":6.97,"y":0.3},{"x":7.04,"y":-0.04},{"x":7.09,"y":-0.24},{"x":7.17,"y":-0.33},{"x":7.26,"y":-0.24},{"x":7.35,"y":-0.074},{"x":7.45,"y":-0.04},{"x":7.51,"y":0.06},{"x":7.57,"y":-0.04},{"x":7.7,"y":0.13},{"x":7.8,"y":0.26},{"x":7.86,"y":0.36},{"x":7.92,"y":0.26},{"x":8,"y":-0.14}],
"f36":[{"x":1.5,"y":0.12},{"x":1.65,"y":0},{"x":1.79,"y":-0.15},{"x":2.01,"y":0},{"x":2.23,"y":0.15},{"x":2.43,"y":0},{"x":2.63,"y":-0.15},{"x":2.84,"y":0},{"x":3.05,"y":0.15},{"x":3.24,"y":0},{"x":3.42,"y":-0.15},{"x":3.64,"y":0},{"x":3.86,"y":0.15},{"x":4.07,"y":0},{"x":4.27,"y":-0.15},{"x":4.48,"y":0},{"x":4.68,"y":0.15},{"x":4.87,"y":0},{"x":5.06,"y":-0.15},{"x":5.28,"y":0},{"x":5.5,"y":0.15}],
"d36":[{"x":1.5,"y":0.095},{"x":1.56,"y":-0.04},{"x":1.63,"y":-0.21},{"x":1.69,"y":-0.11},{"x":1.75,"y":0.095},{"x":1.81,"y":0.01},{"x":1.88,"y":-0.175},{"x":1.94,"y":-0.074},{"x":2,"y":0.13},{"x":2.1,"y":0.16},{"x":2.17,"y":0.095},{"x":2.23,"y":0.18},{"x":2.29,"y":0.01},{"x":2.36,"y":-0.21},{"x":2.42,"y":-0.11},{"x":2.48,"y":0.13},{"x":2.57,"y":-0.04},{"x":2.63,"y":-0.31},{"x":2.7,"y":-0.175},{"x":2.8,"y":0.095},{"x":2.88,"y":0.16},{"x":2.96,"y":0.26},{"x":3.02,"y":0.095},{"x":3.08,"y":-0.04},{"x":3.15,"y":0.095},{"x":3.21,"y":0.23},{"x":3.27,"y":0.027},{"x":3.36,"y":-0.21},{"x":3.42,"y":-0.31},{"x":3.49,"y":-0.175},{"x":3.59,"y":0.095},{"x":3.68,"y":0.095},{"x":3.76,"y":0.16},{"x":3.86,"y":0.23},{"x":3.95,"y":0.18},{"x":4.03,"y":0.027},{"x":4.12,"y":-0.11},{"x":4.22,"y":-0.21},{"x":4.3,"y":-0.34},{"x":4.37,"y":-0.41},{"x":4.43,"y":-0.24},{"x":4.49,"y":0.027},{"x":4.56,"y":0.3},{"x":4.62,"y":0.4},{"x":4.68,"y":0.26},{"x":4.75,"y":0.027},{"x":4.81,"y":-0.04},{"x":4.87,"y":0.027},{"x":4.93,"y":-0.04},{"x":5,"y":-0.24},{"x":5.06,"y":-0.34},{"x":5.15,"y":-0.04},{"x":5.25,"y":0.2},{"x":5.34,"y":0.36},{"x":5.41,"y":0.49},{"x":5.47,"y":0.47},{"x":5.5,"y":0.33}],
"f41":[{"x":5.55,"y":0.2},{"x":5.82,"y":0.85},{"x":6.07,"y":0},{"x":6.32,"y":-0.9},{"x":6.56,"y":0},{"x":6.81,"y":1},{"x":7.05,"y":0},{"x":7.3,"y":-0.9},{"x":7.58,"y":0},{"x":7.86,"y":1},{"x":8.1,"y":0},{"x":8.35,"y":-0.9},{"x":8.6,"y":0},{"x":8.85,"y":1},{"x":9.1,"y":0},{"x":9.35,"y":-0.9},{"x":9.5,"y":-0.5}],
"d41":[{"x":5.55,"y":0.34},{"x":5.64,"y":0.6},{"x":5.76,"y":1.14},{"x":5.88,"y":1.27},{"x":5.97,"y":0.8},{"x":6.07,"y":0.13},{"x":6.19,"y":-0.54},{"x":6.32,"y":-1},{"x":6.41,"y":-0.87},{"x":6.5,"y":-0.07},{"x":6.62,"y":0.34},{"x":6.71,"y":0.8},{"x":6.81,"y":1.14},{"x":6.91,"y":1.27},{"x":6.99,"y":0.47},{"x":7.12,"y":-0.2},{"x":7.2,"y":-1},{"x":7.3,"y":-1.2},{"x":7.43,"y":-0.87},{"x":7.55,"y":0.13},{"x":7.65,"y":0.6},{"x":7.74,"y":0.8},{"x":7.82,"y":1.27},{"x":7.92,"y":1.14},{"x":8.02,"y":0.34},{"x":8.14,"y":-0.54},{"x":8.27,"y":-1.2},{"x":8.35,"y":-1.2},{"x":8.44,"y":-0.74},{"x":8.54,"y":-0.07},{"x":8.66,"y":0.47},{"x":8.78,"y":1.27},{"x":8.85,"y":1.47},{"x":8.93,"y":0.8},{"x":9.03,"y":0.34},{"x":9.15,"y":-0.07},{"x":9.28,"y":-0.2},{"x":9.4,"y":0.34},{"x":9.5,"y":0.13}],
"f42":[{"x":4,"y":-1.2},{"x":4.25,"y":0},{"x":4.55,"y":1.35},{"x":4.84,"y":0},{"x":5.12,"y":-1.3},{"x":5.36,"y":0},{"x":5.6,"y":1.55},{"x":5.9,"y":0},{"x":6.19,"y":-1.4},{"x":6.46,"y":0},{"x":6.73,"y":1.6},{"x":7.03,"y":0},{"x":7.32,"y":-1.2},{"x":7.6,"y":0},{"x":7.87,"y":1.1},{"x":8,"y":1}],
"d42":[{"x":4,"y":-0.07},{"x":4.14,"y":0.34},{"x":4.24,"y":-0.07},{"x":4.36,"y":0.34},{"x":4.49,"y":-0.2},{"x":4.62,"y":0.6},{"x":4.74,"y":-0.74},{"x":4.8,"y":-1},{"x":4.89,"y":-0.87},{"x":4.99,"y":-0.6},{"x":5.12,"y":-1.2},{"x":5.22,"y":-0.87},{"x":5.31,"y":-0.07},{"x":5.43,"y":0.8},{"x":5.52,"y":1.68},{"x":5.62,"y":1.95},{"x":5.72,"y":1.47},{"x":5.85,"y":0.6},{"x":5.94,"y":-0.54},{"x":6.03,"y":-1.2},{"x":6.13,"y":-1.54},{"x":6.19,"y":-1.68},{"x":6.31,"y":-1.2},{"x":6.44,"y":-0.2},{"x":6.57,"y":1.14},{"x":6.69,"y":1.68},{"x":6.75,"y":1.8},{"x":6.88,"y":1.68},{"x":7,"y":0.94},{"x":7.13,"y":-0.2},{"x":7.26,"y":-1.54},{"x":7.38,"y":-2.08},{"x":7.51,"y":-1.88},{"x":7.64,"y":-0.54},{"x":7.76,"y":0.8},{"x":7.89,"y":1.95},{"x":8,"y":1.27}],
"f43":[{"x":5.9,"y":-1.2},{"x":6,"y":0},{"x":6.16,"y":3},{"x":6.37,"y":0},{"x":6.58,"y":-2.9},{"x":6.78,"y":0},{"x":6.97,"y":3},{"x":7.19,"y":0},{"x":7.4,"y":-2.9},{"x":7.6,"y":0},{"x":7.79,"y":3},{"x":8,"y":0},{"x":8.22,"y":-2.9},{"x":8.42,"y":0},{"x":8.61,"y":3},{"x":8.8,"y":0},{"x":8.98,"y":-2.9},{"x":9.19,"y":0},{"x":9.4,"y":3},{"x":9.6,"y":0},{"x":9.8,"y":-2.8}],
"d43":[{"x":5.91,"y":-1.88},{"x":5.96,"y":-0.54},{"x":6.02,"y":2.48},{"x":6.12,"y":3.29},{"x":6.2,"y":2.82},{"x":6.3,"y":1.14},{"x":6.4,"y":-1.54},{"x":6.48,"y":-3.55},{"x":6.54,"y":-4.2},{"x":6.63,"y":-3.2},{"x":6.73,"y":-0.54},{"x":6.85,"y":1.8},{"x":6.93,"y":4.16},{"x":7.01,"y":6.17},{"x":7.07,"y":5.83},{"x":7.13,"y":3.15},{"x":7.21,"y":-0.2},{"x":7.3,"y":-3.55},{"x":7.36,"y":-4.2},{"x":7.42,"y":-3.2},{"x":7.52,"y":-1.54},{"x":7.64,"y":0.47},{"x":7.76,"y":2.82},{"x":7.86,"y":4.63},{"x":7.94,"y":3.15},{"x":8.03,"y":0.47},{"x":8.13,"y":-1.54},{"x":8.22,"y":-2.2},{"x":8.31,"y":-1.88},{"x":8.43,"y":-0.54},{"x":8.55,"y":1.8},{"x":8.64,"y":3.49},{"x":8.71,"y":2.82},{"x":8.79,"y":0.47},{"x":8.88,"y":-2.88},{"x":8.95,"y":-3.55},{"x":9.03,"y":-1.2},{"x":9.1,"y":0.13},{"x":9.19,"y":-0.87},{"x":9.28,"y":0.47},{"x":9.37,"y":2.82},{"x":9.44,"y":3.15},{"x":9.52,"y":1.8},{"x":9.6,"y":-0.87},{"x":9.7,"y":-3.2},{"x":9.77,"y":-4.09}],
"f44":[{"x":6,"y":-1.9},{"x":6.18,"y":0},{"x":6.38,"y":4.2},{"x":6.6,"y":0},{"x":6.82,"y":-4.2},{"x":7.09,"y":0},{"x":7.36,"y":4.2},{"x":7.59,"y":0},{"x":7.82,"y":-4.2},{"x":8.04,"y":0},{"x":8.26,"y":4.2},{"x":8.51,"y":0},{"x":8.77,"y":-4.2},{"x":9.02,"y":0},{"x":9.27,"y":4.2},{"x":9.51,"y":0},{"x":9.75,"y":-4.2},{"x":10,"y":-0.5}],
"d44":[{"x":6,"y":-1.2},{"x":6.06,"y":0.47},{"x":6.15,"y":2.15},{"x":6.25,"y":3.82},{"x":6.38,"y":5.16},{"x":6.44,"y":5.7},{"x":6.5,"y":4.83},{"x":6.57,"y":3.15},{"x":6.65,"y":-0.2},{"x":6.73,"y":-2.88},{"x":6.82,"y":-4.2},{"x":6.91,"y":-5.23},{"x":7.01,"y":-3.89},{"x":7.13,"y":-0.54},{"x":7.23,"y":2.48},{"x":7.32,"y":4.83},{"x":7.38,"y":5.3},{"x":7.48,"y":4.49},{"x":7.61,"y":1.14},{"x":7.74,"y":-2.55},{"x":7.82,"y":-4.56},{"x":7.91,"y":-4.9},{"x":8.01,"y":-2.88},{"x":8.11,"y":1.14},{"x":8.2,"y":3.82},{"x":8.29,"y":4.49},{"x":8.39,"y":4.83},{"x":8.45,"y":3.15},{"x":8.54,"y":-0.87},{"x":8.64,"y":-3.89},{"x":8.74,"y":-4.9},{"x":8.83,"y":-3.89},{"x":8.96,"y":-0.2},{"x":9.08,"y":3.82},{"x":9.21,"y":5.16},{"x":9.33,"y":5.97},{"x":9.42,"y":4.49},{"x":9.52,"y":1.14},{"x":9.65,"y":-3.89},{"x":9.75,"y":-4.56},{"x":9.88,"y":-1.2},{"x":9.95,"y":1.2},{"x":10,"y":2}],
"f45":[{"x":4,"y":-2.2},{"x":4.25,"y":0},{"x":4.49,"y":2.3},{"x":4.73,"y":0},{"x":4.96,"y":-2.2},{"x":5.23,"y":0},{"x":5.5,"y":2.3},{"x":5.75,"y":0},{"x":6,"y":-2.2},{"x":6.25,"y":0},{"x":6.5,"y":2.35},{"x":6.75,"y":0},{"x":7,"y":-2.3},{"x":7.25,"y":0},{"x":7.51,"y":2.35},{"x":7.75,"y":0},{"x":8,"y":-2.2}],
"d45":[{"x":4,"y":-0.54},{"x":4.05,"y":-1.88},{"x":4.11,"y":-1.54},{"x":4.2,"y":0.13},{"x":4.3,"y":1.8},{"x":4.36,"y":2.48},{"x":4.43,"y":0.13},{"x":4.49,"y":2.48},{"x":4.55,"y":4.16},{"x":4.62,"y":4.63},{"x":4.68,"y":3.49},{"x":4.74,"y":0.47},{"x":4.8,"y":-2.21},{"x":4.87,"y":-3.2},{"x":4.93,"y":-3.55},{"x":4.99,"y":-3.2},{"x":5.06,"y":-1.88},{"x":5.18,"y":-0.2},{"x":5.28,"y":0.8},{"x":5.37,"y":1.8},{"x":5.46,"y":2.48},{"x":5.53,"y":3.82},{"x":5.62,"y":1.8},{"x":5.71,"y":0.47},{"x":5.81,"y":-1.2},{"x":5.91,"y":-2.21},{"x":6,"y":-3.2},{"x":6.09,"y":-4.56},{"x":6.19,"y":-1.54},{"x":6.29,"y":0.47},{"x":6.38,"y":1.8},{"x":6.47,"y":2.48},{"x":6.54,"y":3.15},{"x":6.59,"y":2.48},{"x":6.69,"y":0.8},{"x":6.82,"y":-1.54},{"x":6.92,"y":-2.21},{"x":6.97,"y":-3.89},{"x":7.07,"y":-2.2},{"x":7.17,"y":0.47},{"x":7.26,"y":1.8},{"x":7.32,"y":2.48},{"x":7.38,"y":1.14},{"x":7.45,"y":1.8},{"x":7.55,"y":0.8},{"x":7.63,"y":0.47},{"x":7.72,"y":2.15},{"x":7.82,"y":0.47},{"x":7.89,"y":-0.54},{"x":8,"y":-0.87}],
"f46":[{"x":1.5,"y":-3.5},{"x":1.71,"y":0},{"x":1.92,"y":3.45},{"x":2.12,"y":0},{"x":2.32,"y":-3.4},{"x":2.52,"y":0},{"x":2.73,"y":3.45},{"x":2.93,"y":0},{"x":3.14,"y":-3.4},{"x":3.35,"y":0},{"x":3.55,"y":3.45},{"x":3.75,"y":0},{"x":3.95,"y":-3.4},{"x":4.15,"y":0},{"x":4.34,"y":3.45},{"x":4.55,"y":0},{"x":4.75,"y":-3.4},{"x":4.95,"y":0},{"x":5.15,"y":3.45},{"x":5.33,"y":0},{"x":5.5,"y":-2.6}],
"d46":[{"x":1.5,"y":-2.2},{"x":1.56,"y":-0.2},{"x":1.63,"y":1.14},{"x":1.7,"y":2.48},{"x":1.79,"y":3.82},{"x":1.88,"y":5.16},{"x":1.94,"y":4.16},{"x":1.98,"y":2.82},{"x":2.04,"y":-0.87},{"x":2.1,"y":-1.54},{"x":2.17,"y":-2.2},{"x":2.23,"y":-1.2},{"x":2.32,"y":-2.55},{"x":2.38,"y":-1.54},{"x":2.46,"y":0.8},{"x":2.52,"y":0.8},{"x":2.61,"y":1.8},{"x":2.7,"y":3.49},{"x":2.77,"y":3.82},{"x":2.83,"y":2.15},{"x":2.9,"y":-0.87},{"x":2.96,"y":-1.54},{"x":3.02,"y":-2.55},{"x":3.08,"y":-3.22},{"x":3.17,"y":-1.54},{"x":3.26,"y":1.47},{"x":3.36,"y":3.49},{"x":3.45,"y":4.49},{"x":3.55,"y":5.16},{"x":3.61,"y":4.49},{"x":3.68,"y":1.47},{"x":3.76,"y":-1.2},{"x":3.86,"y":-1.88},{"x":3.93,"y":-2.2},{"x":4.02,"y":-4.56},{"x":4.09,"y":-3.55},{"x":4.15,"y":0.47},{"x":4.22,"y":4.49},{"x":4.27,"y":7.85},{"x":4.33,"y":9.86},{"x":4.4,"y":7.85},{"x":4.46,"y":2.48},{"x":4.52,"y":-1.54},{"x":4.58,"y":-4.22},{"x":4.64,"y":-6.24},{"x":4.71,"y":-7.9},{"x":4.77,"y":-6.24},{"x":4.83,"y":-3.55},{"x":4.91,"y":-0.87},{"x":4.97,"y":1.8},{"x":5.03,"y":4.16},{"x":5.1,"y":5.5},{"x":5.16,"y":6.17},{"x":5.22,"y":3.82},{"x":5.31,"y":-0.2},{"x":5.4,"y":-2.88},{"x":5.47,"y":-4.9},{"x":5.5,"y":-5.23}]
},
"columns":6,
"spacing":{"row":15.3,"column":15.6},
"bounds":"flush",
"concat":[
{"title":"Healthy - 4","width":106,"height":100,"encoding":{"x":{"field":"x","type":"quantitative","scale":{"domain":[5.55,9.5],"nice":false,"zero":false},"axis":{"labels":false,"title":null}},"y":{"field":"y","type":"quantitative","scale":{"domain":[-15,15],"nice":false},"axis":{"values":[-10,0,10],"labelExpr":"''+datum.value","ticks":true,"tickSize":-3,"title":["Δ Amplitude","(%)"]}}},"layer":[{"data":{"name":"f11"},"mark":{"type":"line","color":"#a6a6a6","strokeWidth":1},"encoding":{"y":{"datum":0}}},{"data":{"name":"d11"},"mark":{"type":"line","color":"#000","strokeWidth":2,"strokeDash":[2,2],"interpolate":"monotone","clip":true},"encoding":{}},{"data":{"name":"f11"},"mark":{"type":"line","color":"#77AC30","strokeWidth":2.6,"interpolate":"natural","clip":true},"encoding":{}}]},
{"title":"Healthy - 5","width":106,"height":100,"encoding":{"x":{"field":"x","type":"quantitative","scale":{"domain":[4,8],"nice":false,"zero":false},"axis":{"labels":false,"title":null}},"y":{"field":"y","type":"quantitative","scale":{"domain":[-15,15],"nice":false},"axis":{"labels":false,"title":null}}},"layer":[{"data":{"name":"f12"},"mark":{"type":"line","color":"#a6a6a6","strokeWidth":1},"encoding":{"y":{"datum":0}}},{"data":{"name":"d12"},"mark":{"type":"line","color":"#000","strokeWidth":2,"strokeDash":[2,2],"interpolate":"monotone","clip":true},"encoding":{}},{"data":{"name":"f12"},"mark":{"type":"line","color":"#77AC30","strokeWidth":2.6,"interpolate":"natural","clip":true},"encoding":{}}]},
{"title":"IPF - 12","width":106,"height":100,"encoding":{"x":{"field":"x","type":"quantitative","scale":{"domain":[5.9,9.8],"nice":false,"zero":false},"axis":{"labels":false,"title":null}},"y":{"field":"y","type":"quantitative","scale":{"domain":[-15,15],"nice":false},"axis":{"labels":false,"title":null}}},"layer":[{"data":{"name":"f13"},"mark":{"type":"line","color":"#a6a6a6","strokeWidth":1},"encoding":{"y":{"datum":0}}},{"data":{"name":"d13"},"mark":{"type":"line","color":"#000","strokeWidth":2,"strokeDash":[2,2],"interpolate":"monotone","clip":true},"encoding":{}},{"data":{"name":"f13"},"mark":{"type":"line","color":"#D95319","strokeWidth":2.6,"interpolate":"natural","clip":true},"encoding":{}}]},
{"title":"IPF - 13","width":106,"height":100,"encoding":{"x":{"field":"x","type":"quantitative","scale":{"domain":[6,10],"nice":false,"zero":false},"axis":{"labels":false,"title":null}},"y":{"field":"y","type":"quantitative","scale":{"domain":[-15,15],"nice":false},"axis":{"labels":false,"title":null}}},"layer":[{"data":{"name":"f14"},"mark":{"type":"line","color":"#a6a6a6","strokeWidth":1},"encoding":{"y":{"datum":0}}},{"data":{"name":"d14"},"mark":{"type":"line","color":"#000","strokeWidth":2,"strokeDash":[2,2],"interpolate":"monotone","clip":true},"encoding":{}},{"data":{"name":"f14"},"mark":{"type":"line","color":"#D95319","strokeWidth":2.6,"interpolate":"natural","clip":true},"encoding":{}}]},
{"title":"IPF - 14","width":106,"height":100,"encoding":{"x":{"field":"x","type":"quantitative","scale":{"domain":[4,8],"nice":false,"zero":false},"axis":{"labels":false,"title":null}},"y":{"field":"y","type":"quantitative","scale":{"domain":[-15,15],"nice":false},"axis":{"labels":false,"title":null}}},"layer":[{"data":{"name":"f15"},"mark":{"type":"line","color":"#a6a6a6","strokeWidth":1},"encoding":{"y":{"datum":0}}},{"data":{"name":"d15"},"mark":{"type":"line","color":"#000","strokeWidth":2,"strokeDash":[2,2],"interpolate":"monotone","clip":true},"encoding":{}},{"data":{"name":"f15"},"mark":{"type":"line","color":"#D95319","strokeWidth":2.6,"interpolate":"natural","clip":true},"encoding":{}}]},
{"title":"IPF - 15","width":106,"height":100,"encoding":{"x":{"field":"x","type":"quantitative","scale":{"domain":[1.5,5.5],"nice":false,"zero":false},"axis":{"labels":false,"title":null}},"y":{"field":"y","type":"quantitative","scale":{"domain":[-15,15],"nice":false},"axis":{"labels":false,"title":null}}},"layer":[{"data":{"name":"f16"},"mark":{"type":"line","color":"#a6a6a6","strokeWidth":1},"encoding":{"y":{"datum":0}}},{"data":{"name":"d16"},"mark":{"type":"line","color":"#000","strokeWidth":2,"strokeDash":[2,2],"interpolate":"monotone","clip":true},"encoding":{}},{"data":{"name":"f16"},"mark":{"type":"line","color":"#D95319","strokeWidth":2.6,"interpolate":"natural","clip":true},"encoding":{}}]},

{"width":106,"height":100,"encoding":{"x":{"field":"x","type":"quantitative","scale":{"domain":[5.55,9.5],"nice":false,"zero":false},"axis":{"labels":false,"title":null}},"y":{"field":"y","type":"quantitative","scale":{"domain":[-0.5,0.5],"nice":false},"axis":{"values":[-0.5,0,0.5],"labelExpr":"''+datum.value","ticks":true,"tickSize":-3,"title":["Δ Chemical","Shift (ppm)"]}}},"layer":[{"data":{"name":"f21"},"mark":{"type":"line","color":"#a6a6a6","strokeWidth":1},"encoding":{"y":{"datum":0}}},{"data":{"name":"d21"},"mark":{"type":"line","color":"#000","strokeWidth":2,"strokeDash":[2,2],"interpolate":"monotone","clip":true},"encoding":{}},{"data":{"name":"f21"},"mark":{"type":"line","color":"#77AC30","strokeWidth":2.6,"interpolate":"natural","clip":true},"encoding":{}}]},
{"width":106,"height":100,"encoding":{"x":{"field":"x","type":"quantitative","scale":{"domain":[4,8],"nice":false,"zero":false},"axis":{"labels":false,"title":null}},"y":{"field":"y","type":"quantitative","scale":{"domain":[-0.5,0.5],"nice":false},"axis":{"labels":false,"title":null}}},"layer":[{"data":{"name":"f22"},"mark":{"type":"line","color":"#a6a6a6","strokeWidth":1},"encoding":{"y":{"datum":0}}},{"data":{"name":"d22"},"mark":{"type":"line","color":"#000","strokeWidth":2,"strokeDash":[2,2],"interpolate":"monotone","clip":true},"encoding":{}},{"data":{"name":"f22"},"mark":{"type":"line","color":"#77AC30","strokeWidth":2.6,"interpolate":"natural","clip":true},"encoding":{}}]},
{"width":106,"height":100,"encoding":{"x":{"field":"x","type":"quantitative","scale":{"domain":[5.9,9.8],"nice":false,"zero":false},"axis":{"labels":false,"title":null}},"y":{"field":"y","type":"quantitative","scale":{"domain":[-0.5,0.5],"nice":false},"axis":{"labels":false,"title":null}}},"layer":[{"data":{"name":"f23"},"mark":{"type":"line","color":"#a6a6a6","strokeWidth":1},"encoding":{"y":{"datum":0}}},{"data":{"name":"d23"},"mark":{"type":"line","color":"#000","strokeWidth":2,"strokeDash":[2,2],"interpolate":"monotone","clip":true},"encoding":{}},{"data":{"name":"f23"},"mark":{"type":"line","color":"#D95319","strokeWidth":2.6,"interpolate":"natural","clip":true},"encoding":{}}]},
{"width":106,"height":100,"encoding":{"x":{"field":"x","type":"quantitative","scale":{"domain":[6,10],"nice":false,"zero":false},"axis":{"labels":false,"title":null}},"y":{"field":"y","type":"quantitative","scale":{"domain":[-0.5,0.5],"nice":false},"axis":{"labels":false,"title":null}}},"layer":[{"data":{"name":"f24"},"mark":{"type":"line","color":"#a6a6a6","strokeWidth":1},"encoding":{"y":{"datum":0}}},{"data":{"name":"d24"},"mark":{"type":"line","color":"#000","strokeWidth":2,"strokeDash":[2,2],"interpolate":"monotone","clip":true},"encoding":{}},{"data":{"name":"f24"},"mark":{"type":"line","color":"#D95319","strokeWidth":2.6,"interpolate":"natural","clip":true},"encoding":{}}]},
{"width":106,"height":100,"encoding":{"x":{"field":"x","type":"quantitative","scale":{"domain":[4,8],"nice":false,"zero":false},"axis":{"labels":false,"title":null}},"y":{"field":"y","type":"quantitative","scale":{"domain":[-0.5,0.5],"nice":false},"axis":{"labels":false,"title":null}}},"layer":[{"data":{"name":"f25"},"mark":{"type":"line","color":"#a6a6a6","strokeWidth":1},"encoding":{"y":{"datum":0}}},{"data":{"name":"d25"},"mark":{"type":"line","color":"#000","strokeWidth":2,"strokeDash":[2,2],"interpolate":"monotone","clip":true},"encoding":{}},{"data":{"name":"f25"},"mark":{"type":"line","color":"#D95319","strokeWidth":2.6,"interpolate":"natural","clip":true},"encoding":{}}]},
{"width":106,"height":100,"encoding":{"x":{"field":"x","type":"quantitative","scale":{"domain":[1.5,5.5],"nice":false,"zero":false},"axis":{"labels":false,"title":null}},"y":{"field":"y","type":"quantitative","scale":{"domain":[-0.5,0.5],"nice":false},"axis":{"labels":false,"title":null}}},"layer":[{"data":{"name":"f26"},"mark":{"type":"line","color":"#a6a6a6","strokeWidth":1},"encoding":{"y":{"datum":0}}},{"data":{"name":"d26"},"mark":{"type":"line","color":"#000","strokeWidth":2,"strokeDash":[2,2],"interpolate":"monotone","clip":true},"encoding":{}},{"data":{"name":"f26"},"mark":{"type":"line","color":"#D95319","strokeWidth":2.6,"interpolate":"natural","clip":true},"encoding":{}}]},

{"width":106,"height":100,"encoding":{"x":{"field":"x","type":"quantitative","scale":{"domain":[5.55,9.5],"nice":false,"zero":false},"axis":{"labels":false,"title":null}},"y":{"field":"y","type":"quantitative","scale":{"domain":[-0.5,0.5],"nice":false},"axis":{"values":[-0.5,0,0.5],"labelExpr":"''+datum.value","ticks":true,"tickSize":-3,"title":["Δ FWHM","(ppm)"]}}},"layer":[{"data":{"name":"f31"},"mark":{"type":"line","color":"#a6a6a6","strokeWidth":1},"encoding":{"y":{"datum":0}}},{"data":{"name":"d31"},"mark":{"type":"line","color":"#000","strokeWidth":2,"strokeDash":[2,2],"interpolate":"monotone","clip":true},"encoding":{}},{"data":{"name":"f31"},"mark":{"type":"line","color":"#77AC30","strokeWidth":2.6,"interpolate":"natural","clip":true},"encoding":{}}]},
{"width":106,"height":100,"encoding":{"x":{"field":"x","type":"quantitative","scale":{"domain":[4,8],"nice":false,"zero":false},"axis":{"labels":false,"title":null}},"y":{"field":"y","type":"quantitative","scale":{"domain":[-0.5,0.5],"nice":false},"axis":{"labels":false,"title":null}}},"layer":[{"data":{"name":"f32"},"mark":{"type":"line","color":"#a6a6a6","strokeWidth":1},"encoding":{"y":{"datum":0}}},{"data":{"name":"d32"},"mark":{"type":"line","color":"#000","strokeWidth":2,"strokeDash":[2,2],"interpolate":"monotone","clip":true},"encoding":{}},{"data":{"name":"f32"},"mark":{"type":"line","color":"#77AC30","strokeWidth":2.6,"interpolate":"natural","clip":true},"encoding":{}}]},
{"width":106,"height":100,"encoding":{"x":{"field":"x","type":"quantitative","scale":{"domain":[5.9,9.8],"nice":false,"zero":false},"axis":{"labels":false,"title":null}},"y":{"field":"y","type":"quantitative","scale":{"domain":[-0.5,0.5],"nice":false},"axis":{"labels":false,"title":null}}},"layer":[{"data":{"name":"f33"},"mark":{"type":"line","color":"#a6a6a6","strokeWidth":1},"encoding":{"y":{"datum":0}}},{"data":{"name":"d33"},"mark":{"type":"line","color":"#000","strokeWidth":2,"strokeDash":[2,2],"interpolate":"monotone","clip":true},"encoding":{}},{"data":{"name":"f33"},"mark":{"type":"line","color":"#D95319","strokeWidth":2.6,"interpolate":"natural","clip":true},"encoding":{}}]},
{"width":106,"height":100,"encoding":{"x":{"field":"x","type":"quantitative","scale":{"domain":[6,10],"nice":false,"zero":false},"axis":{"labels":false,"title":null}},"y":{"field":"y","type":"quantitative","scale":{"domain":[-0.5,0.5],"nice":false},"axis":{"labels":false,"title":null}}},"layer":[{"data":{"name":"f34"},"mark":{"type":"line","color":"#a6a6a6","strokeWidth":1},"encoding":{"y":{"datum":0}}},{"data":{"name":"d34"},"mark":{"type":"line","color":"#000","strokeWidth":2,"strokeDash":[2,2],"interpolate":"monotone","clip":true},"encoding":{}},{"data":{"name":"f34"},"mark":{"type":"line","color":"#D95319","strokeWidth":2.6,"interpolate":"natural","clip":true},"encoding":{}}]},
{"width":106,"height":100,"encoding":{"x":{"field":"x","type":"quantitative","scale":{"domain":[4,8],"nice":false,"zero":false},"axis":{"labels":false,"title":null}},"y":{"field":"y","type":"quantitative","scale":{"domain":[-0.5,0.5],"nice":false},"axis":{"labels":false,"title":null}}},"layer":[{"data":{"name":"f35"},"mark":{"type":"line","color":"#a6a6a6","strokeWidth":1},"encoding":{"y":{"datum":0}}},{"data":{"name":"d35"},"mark":{"type":"line","color":"#000","strokeWidth":2,"strokeDash":[2,2],"interpolate":"monotone","clip":true},"encoding":{}},{"data":{"name":"f35"},"mark":{"type":"line","color":"#D95319","strokeWidth":2.6,"interpolate":"natural","clip":true},"encoding":{}}]},
{"width":106,"height":100,"encoding":{"x":{"field":"x","type":"quantitative","scale":{"domain":[1.5,5.5],"nice":false,"zero":false},"axis":{"labels":false,"title":null}},"y":{"field":"y","type":"quantitative","scale":{"domain":[-0.5,0.5],"nice":false},"axis":{"labels":false,"title":null}}},"layer":[{"data":{"name":"f36"},"mark":{"type":"line","color":"#a6a6a6","strokeWidth":1},"encoding":{"y":{"datum":0}}},{"data":{"name":"d36"},"mark":{"type":"line","color":"#000","strokeWidth":2,"strokeDash":[2,2],"interpolate":"monotone","clip":true},"encoding":{}},{"data":{"name":"f36"},"mark":{"type":"line","color":"#D95319","strokeWidth":2.6,"interpolate":"natural","clip":true},"encoding":{}}]},

{"width":106,"height":100,"encoding":{"x":{"field":"x","type":"quantitative","scale":{"domain":[5.55,9.5],"nice":false,"zero":false},"axis":{"values":[6,8],"labelExpr":"''+datum.value","ticks":true,"tickSize":-3,"title":null}},"y":{"field":"y","type":"quantitative","scale":{"domain":[-10,10],"nice":false},"axis":{"values":[-10,0,10],"labelExpr":"''+datum.value","ticks":true,"tickSize":-3,"title":["Δ Phase","(degrees)"]}}},"layer":[{"data":{"name":"f41"},"mark":{"type":"line","color":"#a6a6a6","strokeWidth":1},"encoding":{"y":{"datum":0}}},{"data":{"name":"d41"},"mark":{"type":"line","color":"#000","strokeWidth":2,"strokeDash":[2,2],"interpolate":"monotone","clip":true},"encoding":{}},{"data":{"name":"f41"},"mark":{"type":"line","color":"#77AC30","strokeWidth":2.6,"interpolate":"natural","clip":true},"encoding":{}}]},
{"width":106,"height":100,"encoding":{"x":{"field":"x","type":"quantitative","scale":{"domain":[4,8],"nice":false,"zero":false},"axis":{"values":[4,6,8],"labelExpr":"''+datum.value","ticks":true,"tickSize":-3,"title":null}},"y":{"field":"y","type":"quantitative","scale":{"domain":[-10,10],"nice":false},"axis":{"labels":false,"title":null}}},"layer":[{"data":{"name":"f42"},"mark":{"type":"line","color":"#a6a6a6","strokeWidth":1},"encoding":{"y":{"datum":0}}},{"data":{"name":"d42"},"mark":{"type":"line","color":"#000","strokeWidth":2,"strokeDash":[2,2],"interpolate":"monotone","clip":true},"encoding":{}},{"data":{"name":"f42"},"mark":{"type":"line","color":"#77AC30","strokeWidth":2.6,"interpolate":"natural","clip":true},"encoding":{}}]},
{"width":106,"height":100,"encoding":{"x":{"field":"x","type":"quantitative","scale":{"domain":[5.9,9.8],"nice":false,"zero":false},"axis":{"values":[6,8],"labelExpr":"''+datum.value","ticks":true,"tickSize":-3,"title":null}},"y":{"field":"y","type":"quantitative","scale":{"domain":[-10,10],"nice":false},"axis":{"labels":false,"title":null}}},"layer":[{"data":{"name":"f43"},"mark":{"type":"line","color":"#a6a6a6","strokeWidth":1},"encoding":{"y":{"datum":0}}},{"data":{"name":"d43"},"mark":{"type":"line","color":"#000","strokeWidth":2,"strokeDash":[2,2],"interpolate":"monotone","clip":true},"encoding":{}},{"data":{"name":"f43"},"mark":{"type":"line","color":"#D95319","strokeWidth":2.6,"interpolate":"natural","clip":true},"encoding":{}}]},
{"width":106,"height":100,"encoding":{"x":{"field":"x","type":"quantitative","scale":{"domain":[6,10],"nice":false,"zero":false},"axis":{"values":[6,8,10],"labelExpr":"''+datum.value","ticks":true,"tickSize":-3,"title":null}},"y":{"field":"y","type":"quantitative","scale":{"domain":[-10,10],"nice":false},"axis":{"labels":false,"title":null}}},"layer":[{"data":{"name":"f44"},"mark":{"type":"line","color":"#a6a6a6","strokeWidth":1},"encoding":{"y":{"datum":0}}},{"data":{"name":"d44"},"mark":{"type":"line","color":"#000","strokeWidth":2,"strokeDash":[2,2],"interpolate":"monotone","clip":true},"encoding":{}},{"data":{"name":"f44"},"mark":{"type":"line","color":"#D95319","strokeWidth":2.6,"interpolate":"natural","clip":true},"encoding":{}}]},
{"width":106,"height":100,"encoding":{"x":{"field":"x","type":"quantitative","scale":{"domain":[4,8],"nice":false,"zero":false},"axis":{"values":[4,6,8],"labelExpr":"''+datum.value","ticks":true,"tickSize":-3,"title":null}},"y":{"field":"y","type":"quantitative","scale":{"domain":[-10,10],"nice":false},"axis":{"labels":false,"title":null}}},"layer":[{"data":{"name":"f45"},"mark":{"type":"line","color":"#a6a6a6","strokeWidth":1},"encoding":{"y":{"datum":0}}},{"data":{"name":"d45"},"mark":{"type":"line","color":"#000","strokeWidth":2,"strokeDash":[2,2],"interpolate":"monotone","clip":true},"encoding":{}},{"data":{"name":"f45"},"mark":{"type":"line","color":"#D95319","strokeWidth":2.6,"interpolate":"natural","clip":true},"encoding":{}}]},
{"width":106,"height":100,"encoding":{"x":{"field":"x","type":"quantitative","scale":{"domain":[1.5,5.5],"nice":false,"zero":false},"axis":{"values":[2,4],"labelExpr":"''+datum.value","ticks":true,"tickSize":-3,"title":null}},"y":{"field":"y","type":"quantitative","scale":{"domain":[-10,10],"nice":false},"axis":{"labels":false,"title":null}}},"layer":[{"data":{"name":"f46"},"mark":{"type":"line","color":"#a6a6a6","strokeWidth":1},"encoding":{"y":{"datum":0}}},{"data":{"name":"d46"},"mark":{"type":"line","color":"#000","strokeWidth":2,"strokeDash":[2,2],"interpolate":"monotone","clip":true},"encoding":{}},{"data":{"name":"f46"},"mark":{"type":"line","color":"#D95319","strokeWidth":2.6,"interpolate":"natural","clip":true},"encoding":{}}]}
]
}
